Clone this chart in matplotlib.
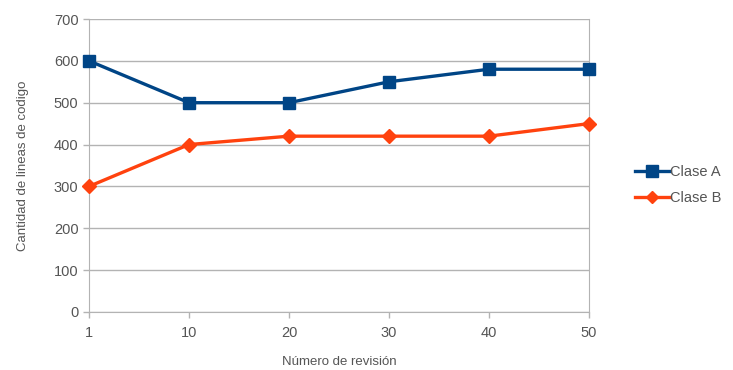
import matplotlib
matplotlib.use("Agg")
import matplotlib.pyplot as plt
from matplotlib.lines import Line2D

revisiones = ["1", "10", "20", "30", "40", "50"]
clase_a = [600, 500, 500, 550, 580, 580]
clase_b = [300, 400, 420, 420, 420, 450]

plt.rcParams['font.family'] = ['Liberation Sans', 'DejaVu Sans']
txt = '#555555'
grid = '#b3b3b3'

fig = plt.figure(figsize=(7.33, 3.70), dpi=100)
ax = fig.add_axes([0.1214, 0.157, 0.682, 0.7916])

x = list(range(len(revisiones)))
ax.plot(x, clase_a, color='#004586', lw=2.4, marker='s', ms=9, label='Clase A', clip_on=False, zorder=3)
ax.plot(x, clase_b, color='#ff420e', lw=2.4, marker='D', ms=7, label='Clase B', clip_on=False, zorder=3)

ax.set_xlim(0, len(revisiones) - 1)
ax.set_ylim(0, 700)
ax.set_xticks(x)
ax.set_xticklabels(revisiones)
ax.set_yticks(range(0, 701, 100))
ax.yaxis.grid(True, color=grid, lw=1)
ax.set_axisbelow(True)
for side in ['left', 'right', 'top', 'bottom']:
    ax.spines[side].set_color(grid)
ax.spines['top'].set_visible(False)
ax.tick_params(axis='both', colors=grid, labelcolor=txt, labelsize=10.5, length=4, width=1)
ax.tick_params(axis='x', pad=6)

ax.set_xlabel('Número de revisión', color=txt, fontsize=9.5, labelpad=12)
ax.set_ylabel('Cantidad de lineas de codigo', color=txt, fontsize=9.5, labelpad=18)

handles = [Line2D([], [], color='#004586', lw=2.4, marker='s', ms=8),
           Line2D([], [], color='#ff420e', lw=2.4, marker='D', ms=6)]
fig.legend(handles, ['Clase A', 'Clase B'], loc='center left', bbox_to_anchor=(0.848, 0.5),
           frameon=False, fontsize=10.5, labelcolor=txt, handlelength=2.4, handletextpad=0.05,
           labelspacing=0.85)

fig.savefig('out.png', dpi=100)
